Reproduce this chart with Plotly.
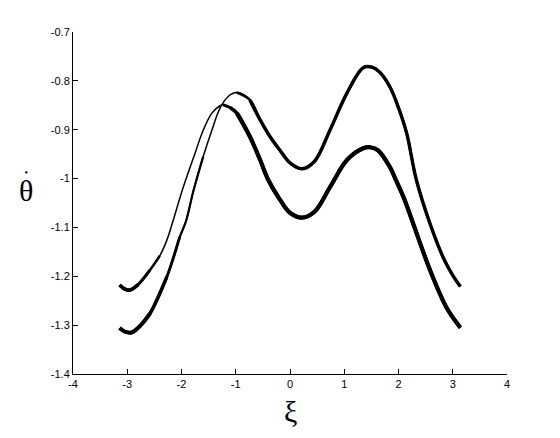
import plotly.graph_objects as go

# branch that starts high at xi=-pi (wraps into the lower branch on the right)
xi_a = [-3.14, -3.05, -2.95, -2.80, -2.58, -2.40, -2.27, -2.16, -1.98, -1.75,
        -1.60, -1.44, -1.29, -1.23, -1.10, -0.98, -0.74, -0.55, -0.40, -0.18,
        0.00, 0.22, 0.45, 0.74, 1.05, 1.35, 1.48, 1.62, 1.84, 1.94, 2.10,
        2.27, 2.58, 2.89, 3.14]
th_a = [-1.218, -1.226, -1.228, -1.217, -1.187, -1.158, -1.126, -1.088, -1.022, -0.948,
        -0.901, -0.866, -0.851, -0.849, -0.855, -0.866, -0.914, -0.962, -1.003, -1.044,
        -1.070, -1.080, -1.068, -1.017, -0.962, -0.938, -0.936, -0.942, -0.976, -1.000, -1.040,
        -1.092, -1.187, -1.265, -1.305]

# branch that starts low at xi=-pi
xi_b = [-3.14, -3.05, -2.92, -2.75, -2.58, -2.27, -2.03, -1.92, -1.78, -1.60,
        -1.44, -1.29, -1.14, -0.98, -0.74, -0.55, -0.37, -0.18, 0.00, 0.22,
        0.45, 0.74, 1.05, 1.35, 1.51, 1.65, 1.84, 2.00, 2.15, 2.33, 2.58,
        2.83, 3.00, 3.14]
th_b = [-1.306, -1.313, -1.315, -1.300, -1.276, -1.201, -1.119, -1.088, -1.025, -0.955,
        -0.901, -0.856, -0.832, -0.824, -0.839, -0.880, -0.914, -0.943, -0.968, -0.980,
        -0.965, -0.900, -0.825, -0.773, -0.772, -0.782, -0.812, -0.855, -0.907, -1.003, -1.092,
        -1.163, -1.198, -1.221]

x_ticks = [-4, -3, -2, -1, 0, 1, 2, 3, 4]
x_ticktext = ['-4', '-3', '-2', '-1', '0', '1', '2', '3', '4']
y_ticks = [-1.4, -1.3, -1.2, -1.1, -1.0, -0.9, -0.8, -0.7]
y_ticktext = ['-1.4', '-1.3', '-1.2', '-1.1', '-1', '-0.9', '-0.8', '-0.7']

# the bundle of orbits is thicker in some parts: thin full line + tapered thicker overlays
# (start index, end index, line width)
thick_a = [(0, 5, 2.4), (0, 4, 3.0), (0, 3, 3.6),
           (13, len(xi_a) - 1, 2.8), (14, len(xi_a) - 1, 3.6), (15, len(xi_a) - 1, 4.2)]
thick_b = [(0, 9, 2.2), (0, 6, 2.8), (0, 5, 3.4), (0, 4, 4.0),
           (13, len(xi_b) - 1, 2.6), (14, len(xi_b) - 1, 3.4)]

fig = go.Figure()
for xs, ys, segs in [(xi_a, th_a, thick_a), (xi_b, th_b, thick_b)]:
    fig.add_trace(go.Scatter(x=xs, y=ys, mode='lines',
                             line=dict(color='black', width=1.5, shape='spline'),
                             showlegend=False, hoverinfo='skip'))
    for i0, i1, w in segs:
        fig.add_trace(go.Scatter(x=xs[i0:i1 + 1], y=ys[i0:i1 + 1], mode='lines',
                                 line=dict(color='black', width=w, shape='spline'),
                                 showlegend=False, hoverinfo='skip'))

axis_common = dict(showgrid=False, zeroline=False, showline=True, linecolor='black',
                   linewidth=1, ticks='inside', ticklen=5, tickcolor='black',
                   tickfont=dict(family='Liberation Sans, Arial', size=11, color='black'),
                   mirror=False)

# theta-dot: dot on its own short line above the theta (line spacing set by font size 19)
theta_dot = "<span style='font-size:10px'>\u2022</span><br><span style='font-size:30px'>\u03b8</span>"

# page body has an 8px margin, so the margins are shifted by 8px
fig.update_layout(
    width=560, height=438,
    margin=dict(l=65, r=61, t=24, b=72),
    plot_bgcolor='white', paper_bgcolor='white',
    xaxis=dict(range=[-4, 4], tickvals=x_ticks, ticktext=x_ticktext, **axis_common),
    yaxis=dict(range=[-1.4, -0.7], tickvals=y_ticks, ticktext=y_ticktext, **axis_common),
    annotations=[
        dict(text=theta_dot, x=-0.108, y=0.546, xref='paper', yref='paper',
             xanchor='center', yanchor='middle', showarrow=False,
             font=dict(family='Liberation Serif, Times New Roman', size=19, color='black')),
        dict(text='\u03be', x=0.5, y=-0.111, xref='paper', yref='paper',
             xanchor='center', yanchor='middle', showarrow=False,
             font=dict(family='Liberation Serif, Times New Roman', size=30, color='black')),
    ],
)

fig.write_html("out.html")
